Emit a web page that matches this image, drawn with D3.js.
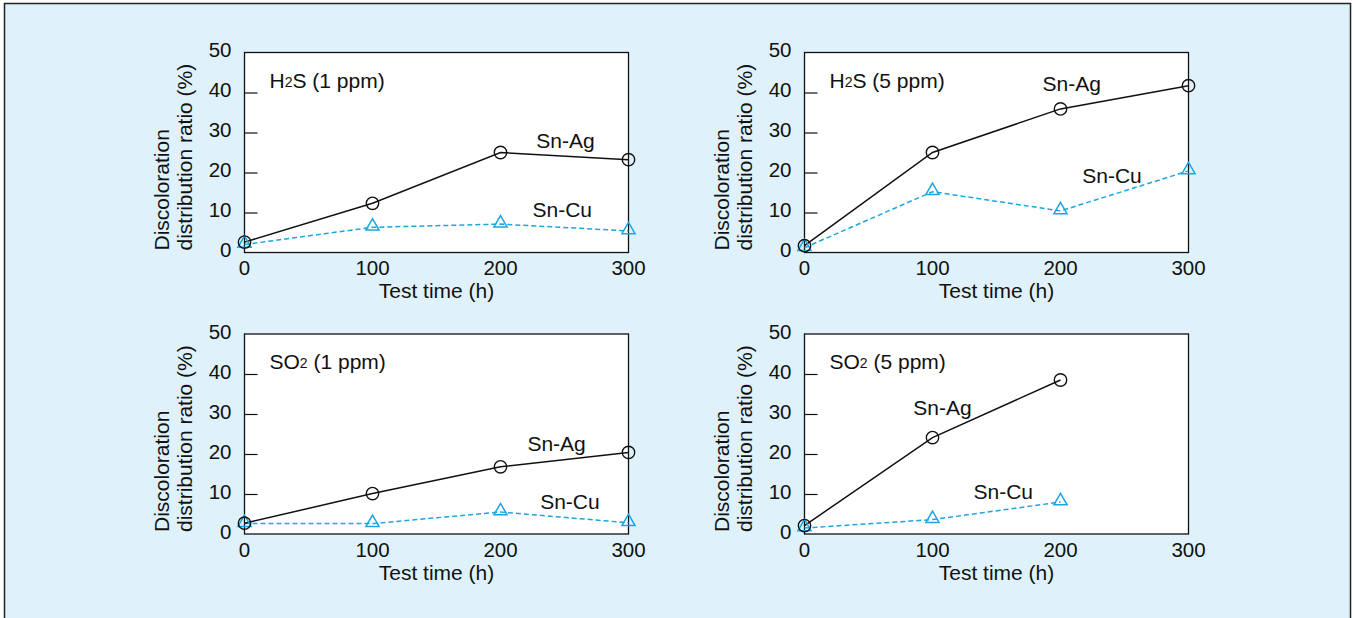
<!DOCTYPE html>
<html>
<head>
<meta charset="utf-8">
<script src="https://cdn.jsdelivr.net/npm/d3@7"></script>
<style>
  html, body { margin: 0; padding: 0; background: #fff; }
  svg text { font-family: "Liberation Sans", Arial, sans-serif; fill: #111; }
</style>
</head>
<body>
<svg id="chart" width="1356" height="618"></svg>
<script>
// test times (h)
var times = [0, 100, 200, 300];
var xTicks = [0, 100, 200, 300];
var yTicks = [0, 10, 20, 30, 40, 50];

// panel titles (gas, concentration)
var gases = ["H", "H", "SO", "SO"];
var subs = ["2", "2", "2", "2"];
var gasTail = ["S (1 ppm)", "S (5 ppm)", " (1 ppm)", " (5 ppm)"];

// discoloration distribution ratio (%)
var snAg = [
  [2.6, 12.3, 25.0, 23.2],
  [1.7, 25.0, 35.9, 41.7],
  [2.7, 10.1, 16.8, 20.4],
  [2.1, 24.1, 38.5]
];
var snCu = [
  [2.0, 6.3, 7.1, 5.4],
  [1.2, 15.2, 10.4, 20.4],
  [2.6, 2.6, 5.5, 2.8],
  [1.5, 3.6, 8.0]
];

// where the series names sit, in data units [time, ratio]
var agLabelAt = [[228, 27.9], [186, 42.3], [221, 22.7], [85, 31.7]];
var cuLabelAt = [[225, 10.7], [217, 19.2], [231, 8.1], [132, 10.6]];

var svg = d3.select("#chart");

svg.append("rect")
  .attr("x", 4.5).attr("y", 3.5)
  .attr("width", 1346).attr("height", 620)
  .attr("fill", "#dff1fa")
  .attr("stroke", "#222")
  .attr("stroke-width", 1.5);

var plotW = 384, plotH = 200;
var origins = [[244.5, 52.5], [804.5, 52.5], [244.5, 334], [804.5, 334]];
var blue = "#1aa6e0";
var fs = "21px";

for (var p = 0; p < 4; p++) {
  var g = svg.append("g")
    .attr("transform", "translate(" + origins[p][0] + "," + origins[p][1] + ")");

  var x = d3.scaleLinear().domain([0, 300]).range([0, plotW]);
  var y = d3.scaleLinear().domain([0, 50]).range([plotH, 0]);

  g.append("rect")
    .attr("width", plotW).attr("height", plotH)
    .attr("fill", "#fff")
    .attr("stroke", "#111")
    .attr("stroke-width", 1.3);

  // inward y ticks
  var yAxis = g.append("g")
    .call(d3.axisRight(y).tickValues(yTicks).tickSize(13).tickFormat(""));
  yAxis.select(".domain").remove();
  yAxis.selectAll("line").attr("stroke", "#111").attr("stroke-width", 1.2);
  yAxis.selectAll(".tick").filter(function (d) { return d == 0 || d == 50; }).remove();

  g.append("g").selectAll("text")
    .data(yTicks).enter().append("text")
    .attr("x", -13)
    .attr("y", function (d) { return y(d) - 3; })
    .attr("text-anchor", "end")
    .attr("dominant-baseline", "central")
    .style("font-size", "20.5px")
    .text(function (d) { return d; });

  g.append("g").selectAll("text")
    .data(xTicks).enter().append("text")
    .attr("x", function (d) { return x(d); })
    .attr("y", plotH + 15)
    .attr("text-anchor", "middle")
    .attr("dominant-baseline", "central")
    .style("font-size", "20.5px")
    .text(function (d) { return d; });

  g.append("text")
    .attr("x", plotW / 2).attr("y", plotH + 38)
    .attr("text-anchor", "middle")
    .attr("dominant-baseline", "central")
    .style("font-size", fs)
    .text("Test time (h)");

  var yt = g.append("text")
    .attr("transform", "translate(-76," + (plotH - 2) + ") rotate(-90)")
    .attr("text-anchor", "start")
    .style("font-size", fs);
  yt.append("tspan").attr("x", 0).attr("dy", 0).text("Discoloration");
  yt.append("tspan").attr("x", 0).attr("dy", 23.5).text("distribution ratio (%)");

  var title = g.append("text")
    .attr("x", 25).attr("y", 27)
    .attr("dominant-baseline", "central")
    .style("font-size", fs);
  title.append("tspan").text(gases[p]);
  title.append("tspan").style("font-size", "14px").attr("dy", 2).text(subs[p]);
  title.append("tspan").attr("dy", -2).text(gasTail[p]);

  var line = d3.line()
    .x(function (d, i) { return x(times[i]); })
    .y(function (d) { return y(d); });

  g.append("path")
    .datum(snCu[p])
    .attr("d", line)
    .attr("fill", "none")
    .attr("stroke", blue)
    .attr("stroke-width", 1.5)
    .attr("stroke-dasharray", "5,3");

  g.append("path")
    .datum(snAg[p])
    .attr("d", line)
    .attr("fill", "none")
    .attr("stroke", "#111")
    .attr("stroke-width", 1.5);

  var tri = d3.symbol().type(d3.symbolTriangle).size(75);
  g.selectAll(".tri")
    .data(snCu[p]).enter().append("path")
    .attr("class", "tri")
    .attr("d", tri)
    .attr("transform", function (d, i) { return "translate(" + x(times[i]) + "," + (y(d) - 1) + ")"; })
    .attr("fill", "none")
    .attr("stroke", blue)
    .attr("stroke-width", 1.5);

  g.selectAll(".circ")
    .data(snAg[p]).enter().append("circle")
    .attr("class", "circ")
    .attr("cx", function (d, i) { return x(times[i]); })
    .attr("cy", function (d) { return y(d); })
    .attr("r", 6.2)
    .attr("fill", "none")
    .attr("stroke", "#111")
    .attr("stroke-width", 1.4);

  g.append("text")
    .attr("x", x(agLabelAt[p][0])).attr("y", y(agLabelAt[p][1]))
    .attr("dominant-baseline", "central")
    .style("font-size", fs)
    .text("Sn-Ag");

  g.append("text")
    .attr("x", x(cuLabelAt[p][0])).attr("y", y(cuLabelAt[p][1]))
    .attr("dominant-baseline", "central")
    .style("font-size", fs)
    .text("Sn-Cu");
}
</script>
</body>
</html>
